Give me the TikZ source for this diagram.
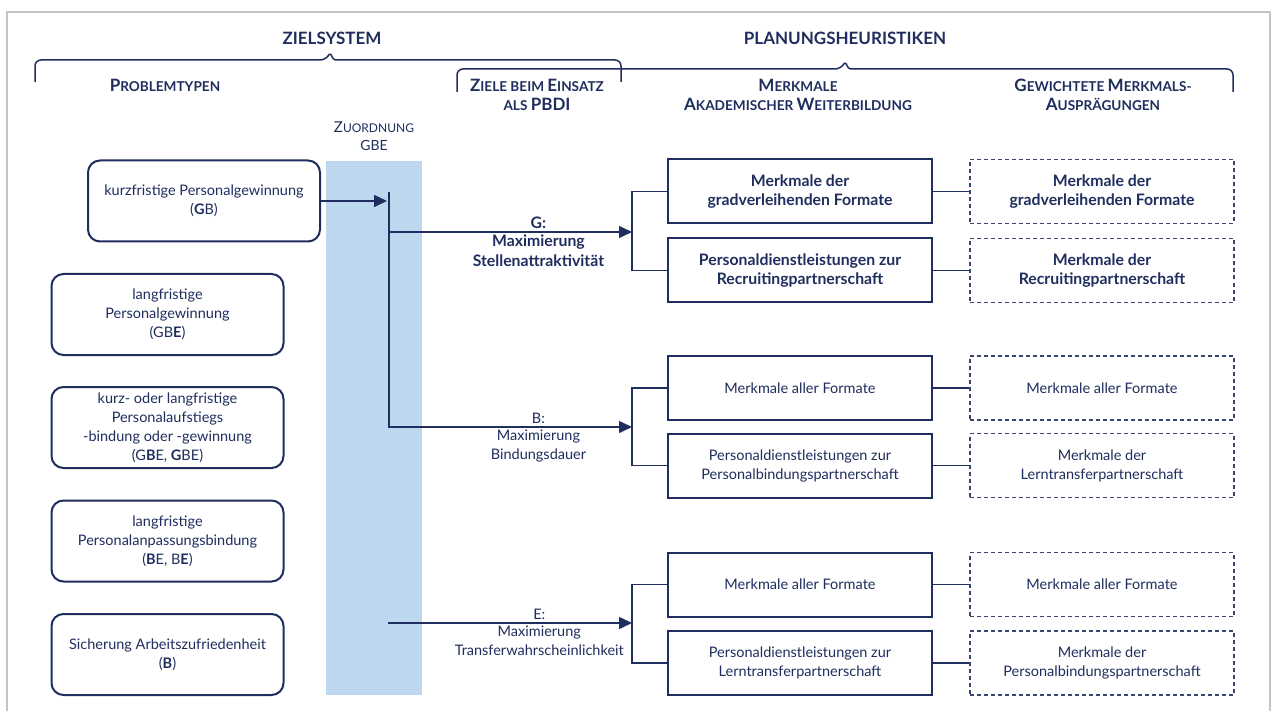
\documentclass[tikz,border=0pt]{standalone}
\usepackage{fontspec}
\setmainfont{Lato}
\usetikzlibrary{arrows.meta}
\definecolor{navy}{HTML}{1F2E5E}
\definecolor{dashnavy}{HTML}{3A4670}
\definecolor{colblue}{HTML}{BDD7EE}
\definecolor{framegray}{HTML}{C4C4C4}
\newcommand\bigc[1]{{\fontsize{17}{20}\selectfont #1}}
\newcommand\smallc[1]{{\fontsize{13.6}{20}\selectfont #1}}
\newcommand\zbig[1]{{\fontsize{15}{18}\selectfont #1}}
\newcommand\zsmall[1]{{\fontsize{12}{18}\selectfont #1}}
\begin{document}
\begin{tikzpicture}[x=1pt, y=-1pt,
  font=\fontsize{14.5}{19}\selectfont,
  every node/.style={text=navy},
  conn/.style={draw=navy, line width=1.5pt},
  arr/.style={conn, -{Triangle[length=13pt,width=12pt]}},
  probbox/.style={draw=navy, line width=2pt, rounded corners=12pt, align=center,
    minimum width=232pt, minimum height=81pt, inner sep=2pt},
  featbox/.style={draw=navy, line width=2pt, align=center,
    minimum width=264pt, minimum height=64pt, inner sep=2pt},
  weightbox/.style={draw=dashnavy, line width=1.3pt, dash pattern=on 4pt off 3pt,
    align=center, minimum width=264pt, minimum height=64pt, inner sep=2pt},
  boldtext/.style={font=\fontsize{15.8}{19.5}\selectfont\bfseries},
  head/.style={font=\fontsize{17}{20}\selectfont\bfseries, align=center},
  colhead/.style={font=\fontsize{17}{19}\selectfont\bfseries, align=center},
  zuohead/.style={font=\fontsize{14}{18}\selectfont, align=center},
  lbl/.style={align=center, inner sep=2.5pt}
]
\useasboundingbox (0,0) rectangle (1274,711);
\fill[white] (0,0) rectangle (1274,711);
\draw[framegray, line width=2pt] (7,712) -- (7,12) -- (1270,12) -- (1270,712);

% braces
\draw[navy, line width=1.5pt] (35,82) [rounded corners=6pt] -- (35,60) -- (326,60)
  [rounded corners=1.5pt] -- (330,53) -- (334,60) [rounded corners=6pt] -- (621,60) -- (621,82);
\draw[navy, line width=1.5pt] (457,92) [rounded corners=6pt] -- (457,69) -- (841,69)
  [rounded corners=1.5pt] -- (845,62) -- (849,69) [rounded corners=6pt] -- (1233,69) -- (1233,92);

% headings
\node[head] (zs) at (332,38) {ZIELSYSTEM};
\node[head] (ph) at (845,38) {PLANUNGSHEURISTIKEN};
\node[colhead] (pt) at (165,85) {\bigc{P}\smallc{ROBLEMTYPEN}};
\node[colhead] (zb) at (537,95) {\bigc{Z}\smallc{IELE BEIM }\bigc{E}\smallc{INSATZ}\\\smallc{ALS }\bigc{PBDI}};
\node[colhead] (mk) at (798,95) {\bigc{M}\smallc{ERKMALE}\\\bigc{A}\smallc{KADEMISCHER }\bigc{W}\smallc{EITERBILDUNG}};
\node[colhead] (gw) at (1103,95) {\bigc{G}\smallc{EWICHTETE }\bigc{M}\smallc{ERKMALS-}\\\bigc{A}\smallc{USPRÄGUNGEN}};

% blue column
\fill[colblue] (326,161) rectangle (422,695);
\node[zuohead] (zu) at (374,136) {\zbig{Z}\zsmall{UORDNUNG}\\GBE};

% problem types
\node[probbox] (p1) at (204,201) {kurzfristige Personalgewinnung\\(\textbf{G}B)};
\node[probbox] (p2) at (167.5,314.5) {langfristige\\Personalgewinnung\\(GB\textbf{E})};
\node[probbox] (p3) at (167.5,427.5) {kurz- oder langfristige\\Personalaufstiegs\\-bindung oder -gewinnung\\(G\textbf{B}E, \textbf{G}BE)};
\node[probbox] (p4) at (167.5,541) {langfristige\\Personalanpassungsbindung\\(\textbf{B}E, B\textbf{E})};
\node[probbox] (p5) at (167.5,654.5) {Sicherung Arbeitszufriedenheit\\(\textbf{B})};

% feature boxes
\node[featbox, boldtext] (g1) at (800,191.5) {Merkmale der\\gradverleihenden Formate};
\node[featbox, boldtext] (g2) at (800,270.5) {Personaldienstleistungen zur\\Recruitingpartnerschaft};
\node[featbox] (b1) at (800,388) {Merkmale aller Formate};
\node[featbox] (b2) at (800,465.5) {Personaldienstleistungen zur\\Personalbindungspartnerschaft};
\node[featbox] (e1) at (800,584.5) {Merkmale aller Formate};
\node[featbox] (e2) at (800,663) {Personaldienstleistungen zur\\Lerntransferpartnerschaft};

% weighted boxes
\node[weightbox, boldtext] (gd1) at (1102,191.5) {Merkmale der\\gradverleihenden Formate};
\node[weightbox, boldtext] (gd2) at (1102,270.5) {Merkmale der\\Recruitingpartnerschaft};
\node[weightbox] (bd1) at (1102,388) {Merkmale aller Formate};
\node[weightbox] (bd2) at (1102,465.5) {Merkmale der\\Lerntransferpartnerschaft};
\node[weightbox] (ed1) at (1102,584.5) {Merkmale aller Formate};
\node[weightbox] (ed2) at (1102,663) {Merkmale der\\Personalbindungspartnerschaft};

% connector coordinates
\coordinate (hub) at (387,201);
\coordinate (ttop) at (389,192);
\coordinate (tg) at (389,232);
\coordinate (tb) at (389,427);
\coordinate (gj) at (632,232);
\coordinate (bj) at (632,427);
\coordinate (es) at (388,623);
\coordinate (ej) at (632,623);

\draw[arr] (p1.east) -- (hub);
\draw[arr] (ttop) -- (tb) -- (bj)
  node[lbl, pos=0.615, above] {B:}
  node[lbl, pos=0.615, below] {Maximierung\\Bindungsdauer};
\draw[arr] (tg) -- (gj)
  node[lbl, boldtext, pos=0.615, above] {G:}
  node[lbl, boldtext, pos=0.615, below] {Maximierung\\Stellenattraktivität};
\draw[arr] (es) -- (ej)
  node[lbl, pos=0.62, above] {E:}
  node[lbl, pos=0.62, below] {Maximierung\\Transferwahrscheinlichkeit};

\draw[conn] (g1.west) -| (gj) |- (g2.west);
\draw[conn] (b1.west) -| (bj) |- (b2.west);
\draw[conn] (e1.west) -| (ej) |- (e2.west);

\draw[conn] (g1) -- (gd1);
\draw[conn] (g2) -- (gd2);
\draw[conn] (b1) -- (bd1);
\draw[conn] (b2) -- (bd2);
\draw[conn] (e1) -- (ed1);
\draw[conn] (e2) -- (ed2);
\end{tikzpicture}
\end{document}
